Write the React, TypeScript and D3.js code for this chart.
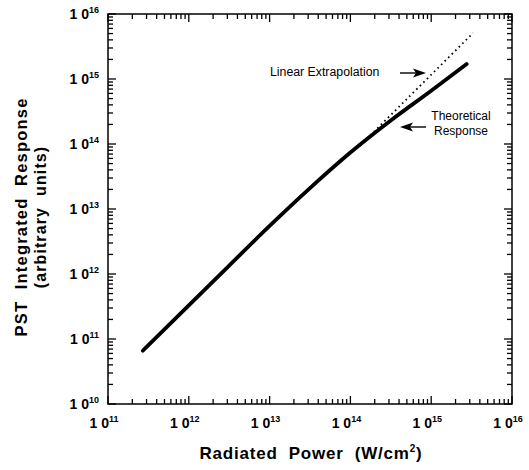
import React from 'react';
import * as d3 from 'd3';

// theoretical response curve
const powerTheory = [2.7e11, 1e12, 3.16e12, 1e13, 3.16e13, 1e14, 3.16e14, 1e15, 2.75e15];
const responseTheory = [6.6e10, 3.3e11, 1.35e12, 5.5e12, 2.1e13, 7.4e13, 2.3e14, 6.6e14, 1.7e15];

// linear extrapolation (dotted)
const powerLinear = [1.3e14, 3.3e15];
const responseLinear = [9.3e13, 5.1e15];

const xExponents = [11, 12, 13, 14, 15, 16];
const yExponents = [10, 11, 12, 13, 14, 15, 16];

const W = 529;
const H = 470;
const margin = { top: 14, right: 17, bottom: 66, left: 108 };
const font = "'Liberation Sans', Arial, sans-serif";

const App = () => {
    const x = d3.scaleLog().domain([1e11, 1e16]).range([margin.left, W - margin.right]);
    const y = d3.scaleLog().domain([1e10, 1e16]).range([H - margin.bottom, margin.top]);

    const x0 = x.range()[0], x1 = x.range()[1];
    const y0 = y.range()[0], y1 = y.range()[1];

    const line = d3.line<[number, number]>()
        .x(d => x(d[0]))
        .y(d => y(d[1]))
        .curve(d3.curveMonotoneX);

    const theory: [number, number][] = powerTheory.map((p, i) => [p, responseTheory[i]]);
    const linear: [number, number][] = powerLinear.map((p, i) => [p, responseLinear[i]]);

    const xTicks = x.ticks();
    const yTicks = y.ticks();
    const isMajor = (v: number) => Math.abs(Math.log10(v) - Math.round(Math.log10(v))) < 1e-6;

    return (
        <svg width={W} height={H} style={{ position: 'absolute', left: 0, top: 0, background: '#fff' }}>
            <rect x={x0} y={y1} width={x1 - x0} height={y0 - y1} fill="none" stroke="#000" strokeWidth={1.5} />

            {xTicks.map((t, i) => {
                const len = isMajor(t) ? 8 : 5;
                return (
                    <g key={'xt' + i} stroke="#000" strokeWidth={1.3}>
                        <line x1={x(t)} x2={x(t)} y1={y0} y2={y0 - len} />
                        <line x1={x(t)} x2={x(t)} y1={y1} y2={y1 + len} />
                    </g>
                );
            })}
            {yTicks.map((t, i) => {
                const len = isMajor(t) ? 8 : 5;
                return (
                    <g key={'yt' + i} stroke="#000" strokeWidth={1.3}>
                        <line x1={x0} x2={x0 + len} y1={y(t)} y2={y(t)} />
                        <line x1={x1} x2={x1 - len} y1={y(t)} y2={y(t)} />
                    </g>
                );
            })}

            {xExponents.map(e => (
                <text key={'xl' + e} x={x(Math.pow(10, e)) - 4} y={y0 + 24} textAnchor="middle"
                    fontFamily={font} fontWeight="bold" fontSize={14}>
                    1 0<tspan dy={-6} fontSize={9}>{e}</tspan>
                </text>
            ))}
            {yExponents.map(e => (
                <text key={'yl' + e} x={x0 - 9} y={y(Math.pow(10, e)) + 5} textAnchor="end"
                    fontFamily={font} fontWeight="bold" fontSize={14}>
                    1 0<tspan dy={-6} fontSize={9}>{e}</tspan>
                </text>
            ))}

            <path d={line(linear) || ''} fill="none" stroke="#000" strokeWidth={1.8}
                strokeDasharray="1.6 3.4" />
            <path d={line(theory) || ''} fill="none" stroke="#000" strokeWidth={3.8}
                strokeLinecap="round" strokeLinejoin="round" />

            <text x={270} y={76} fontFamily={font} fontSize={12.3}>Linear Extrapolation</text>
            <line x1={400} x2={418} y1={73} y2={73} stroke="#000" strokeWidth={1.4} />
            <path d="M426,73 L413,68.5 L416,73 L413,77.5 Z" fill="#000" />

            <text x={461} y={120} textAnchor="middle" fontFamily={font} fontSize={12}>Theoretical</text>
            <text x={461} y={135} textAnchor="middle" fontFamily={font} fontSize={12}>Response</text>
            <line x1={408} x2={426} y1={127} y2={127} stroke="#000" strokeWidth={1.4} />
            <path d="M400,127 L413,122.5 L410,127 L413,131.5 Z" fill="#000" />

            <text x={311} y={459} textAnchor="middle" fontFamily={font} fontWeight="bold" fontSize={17}
                letterSpacing={0.8} style={{ whiteSpace: 'pre' }}>
                {'Radiated  Power  (W/cm'}<tspan dy={-7} fontSize={10}>2</tspan><tspan dy={7}>)</tspan>
            </text>

            <g transform={`translate(27, ${(y0 + y1) / 2 + 8}) rotate(-90)`}>
                <text x={0} y={0} textAnchor="middle" fontFamily={font} fontWeight="bold" fontSize={16.5}
                    letterSpacing={1.2} style={{ whiteSpace: 'pre' }}>
                    {'PST  Integrated  Response'}
                </text>
                <text x={0} y={19} textAnchor="middle" fontFamily={font} fontWeight="bold" fontSize={16}
                    letterSpacing={1.1} style={{ whiteSpace: 'pre' }}>
                    {'(arbitrary  units)'}
                </text>
            </g>
        </svg>
    );
};

export default App;
